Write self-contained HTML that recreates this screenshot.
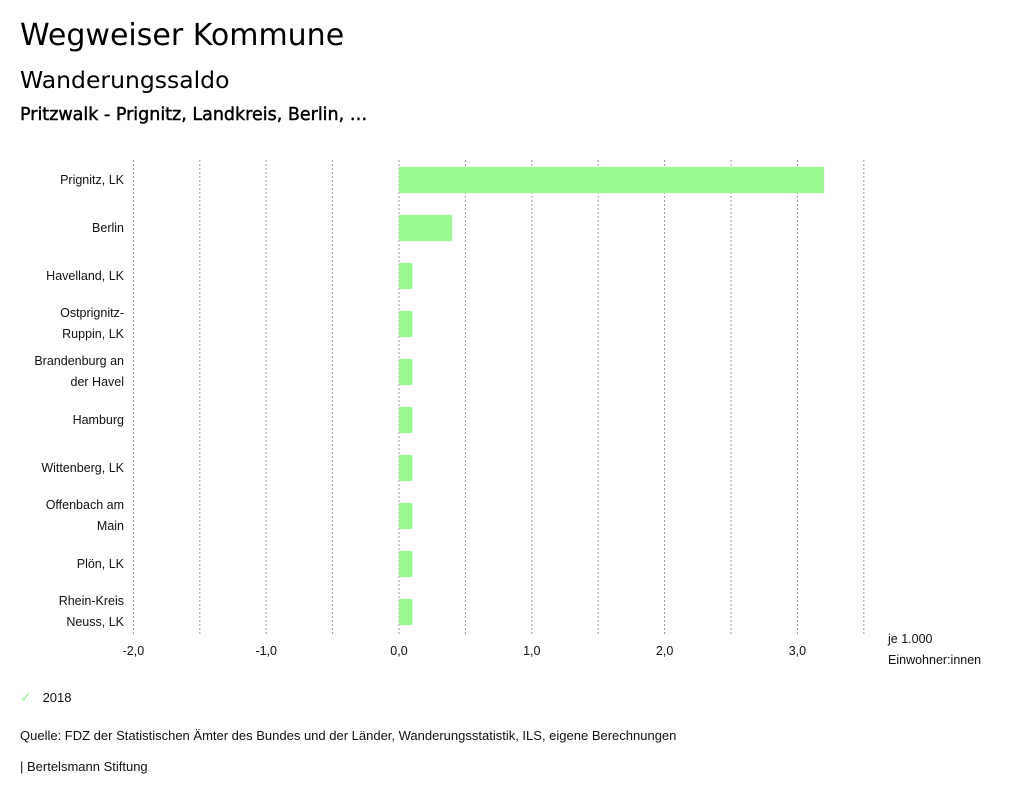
<!DOCTYPE html>
<html><head><meta charset="utf-8"><style>
body{margin:0;width:1024px;height:799px;background:#fff;font-family:"DejaVu Sans",sans-serif;overflow:hidden;position:relative}
.t{position:absolute;left:20px;color:#000;white-space:nowrap}
.s{font-family:"Liberation Sans",sans-serif;font-size:13px;color:#111}
</style></head><body>
<div class="t" style="top:18px;font-size:30px">Wegweiser Kommune</div>
<div class="t" style="top:66px;font-size:23.5px">Wanderungssaldo</div>
<div class="t" style="top:105px;font-size:17.5px;-webkit-text-stroke:0.45px #000">Pritzwalk - Prignitz, Landkreis, Berlin, …</div>
<svg id="chart" width="1024" height="700" style="position:absolute;left:0;top:0" font-family="Liberation Sans, sans-serif" font-size="12.5"></svg>
<div class="t s" style="top:689px;left:20px"><span style="color:#98fa90;font-size:14px">✓</span>&nbsp;&nbsp;&nbsp;2018</div>
<div class="t s" style="top:728px">Quelle: FDZ der Statistischen Ämter des Bundes und der Länder, Wanderungsstatistik, ILS, eigene Berechnungen</div>
<div class="t s" style="top:759px">| Bertelsmann Stiftung</div>
<script>
const categories=[["Prignitz, LK"],["Berlin"],["Havelland, LK"],["Ostprignitz-","Ruppin, LK"],["Brandenburg an","der Havel"],["Hamburg"],["Wittenberg, LK"],["Offenbach am","Main"],["Plön, LK"],["Rhein-Kreis","Neuss, LK"]];
const values=[3.2,0.4,0.1,0.1,0.1,0.1,0.1,0.1,0.1,0.1];
const tickValues=[-2,-1.5,-1,-0.5,0,0.5,1,1.5,2,2.5,3,3.5];
const tickLabels=["-2,0","-1,0","0,0","1,0","2,0","3,0"];
const tickLabelValues=[-2,-1,0,1,2,3];
const svg=document.getElementById('chart');const NS='http://www.w3.org/2000/svg';
const x=v=>399+v*132.8;const rowY=i=>156+i*48;
function mk(t,a){const e=document.createElementNS(NS,t);for(const k in a)e.setAttribute(k,a[k]);svg.appendChild(e);return e;}
tickValues.forEach(v=>{const l=mk('line',{x1:x(v),x2:x(v),y1:160,y2:635,stroke:'#999','stroke-dasharray':'2,2','stroke-width':1});

});
tickLabelValues.forEach((v,i)=>{const t=mk('text',{x:x(v),y:655,'text-anchor':'middle',fill:'#111'});t.textContent=tickLabels[i];

});
categories.forEach((c,i)=>{const cy=rowY(i)+24;
const r=mk('rect',{x:x(Math.min(0,values[i])),y:cy-13,width:Math.abs(x(values[i])-x(0)),height:26,fill:'#98fa90'});


c.forEach((line,j)=>{const t=mk('text',{x:124,y:(c.length==1?cy+4:cy-7+j*21),'text-anchor':'end',fill:'#111'});t.textContent=line;

});});
const u1=mk('text',{x:888,y:643,fill:'#111'});u1.textContent='je 1.000';


const u2=mk('text',{x:888,y:664,fill:'#111'});u2.textContent='Einwohner:innen';


</script>
</body></html>
